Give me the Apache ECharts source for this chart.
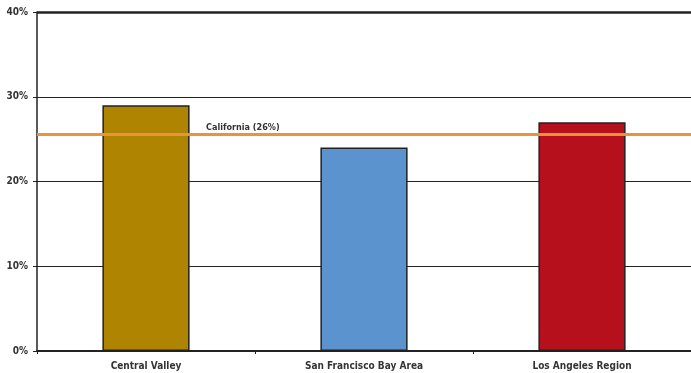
<!DOCTYPE html>
<html><head><meta charset="utf-8">
<script src="https://cdn.jsdelivr.net/npm/echarts@6/dist/echarts.min.js"></script>
<style>html,body{margin:0;padding:0;background:#fff}#c{width:691px;height:373px}</style>
</head><body><div id="c"></div>
<script>
const categories = ['Central Valley', 'San Francisco Bay Area', 'Los Angeles Region'];
const values = [29, 24, 27];
const barColors = ['#AE8400', '#5B93CE', '#B5101C'];
const stateValue = 25.6;
const stateLabel = 'California (26%)';
const yTicks = [0, 10, 20, 30, 40];

const font = 'DejaVu Sans Condensed';
const chart = echarts.init(document.getElementById('c'));
chart.setOption({
  animation: false,
  grid: { left: 37, right: 0, top: 12, bottom: 22, containLabel: false },
  xAxis: {
    type: 'category', data: categories,
    axisLine: { lineStyle: { color: '#222', width: 2 } },
    axisTick: { show: true, length: 3, lineStyle: { color: '#222' } },
    axisLabel: { color: '#333', fontFamily: font, fontWeight: 'bold', fontSize: 10, margin: 10 }
  },
  yAxis: {
    type: 'value', min: yTicks[0], max: yTicks[yTicks.length - 1], interval: 10,
    axisLine: { show: true, lineStyle: { color: '#222', width: 1.5 } },
    axisTick: { show: true, length: 4, lineStyle: { color: '#222' } },
    axisLabel: { formatter: '{value}%', color: '#333', fontFamily: font, fontWeight: 'bold', fontSize: 10, margin: 9 },
    splitLine: { show: true, lineStyle: { color: '#222', width: 1 } }
  },
  series: [{
    type: 'bar',
    data: values.map((v, i) => ({ value: v, itemStyle: { color: barColors[i] } })),
    barWidth: '40%',
    itemStyle: { borderColor: '#222', borderWidth: 1.5 },
    markLine: {
      symbol: 'none', silent: true,
      lineStyle: { color: '#E8943A', width: 3, type: 'solid' },
      label: { show: true, position: 'insideStartTop', formatter: stateLabel, distance: [169, 2],
        color: '#333', fontFamily: font, fontWeight: 'bold', fontSize: 9 },
      data: [{ yAxis: stateValue }]
    }
  }, {
    type: 'line', data: [], markLine: {
      symbol: 'none', silent: true, label: { show: false },
      lineStyle: { color: '#222', width: 2.5, type: 'solid' },
      data: [{ yAxis: yTicks[yTicks.length - 1] }]
    }
  }]
});
</script></body></html>
